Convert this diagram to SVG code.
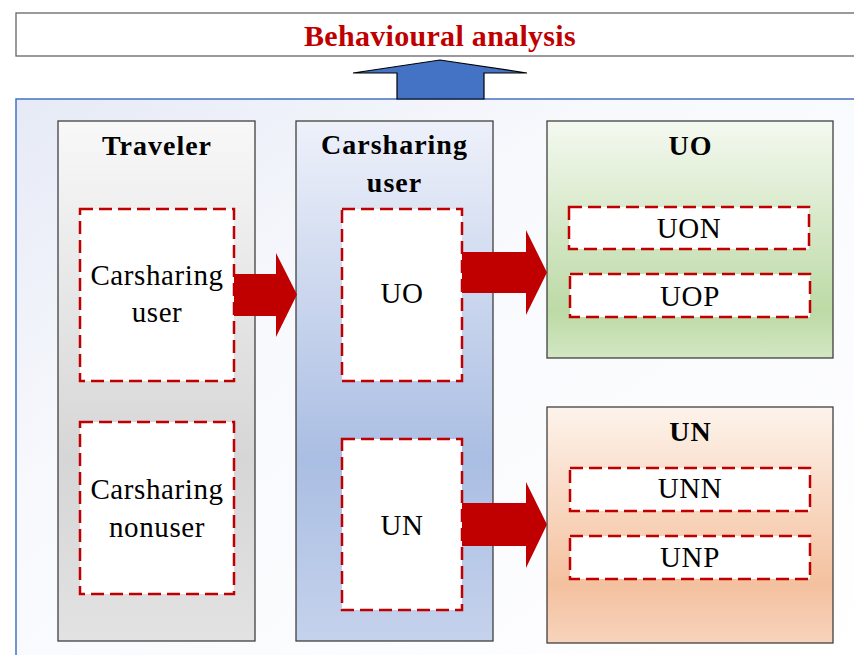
<svg xmlns="http://www.w3.org/2000/svg" width="854" height="655" viewBox="0 0 854 655">
<defs>
<style>
.b{font-family:"Liberation Serif","Times New Roman",serif;font-weight:bold;font-size:28px;letter-spacing:1px;text-anchor:middle;fill:#000}
.r{font-family:"Liberation Serif","Times New Roman",serif;font-size:29px;letter-spacing:0.6px;text-anchor:middle;fill:#000}
.d{fill:#fff;stroke:#C00000;stroke-width:2.5;stroke-dasharray:13 6}
.box{stroke:#404040;stroke-width:1.3}
.ra{fill:#C00000}
</style>
<linearGradient id="gPanel" x1="0" y1="0" x2="1" y2="1">
<stop offset="0" stop-color="#E6EAF6"/><stop offset="0.35" stop-color="#F8F9FD"/><stop offset="1" stop-color="#FFFFFF"/>
</linearGradient>
<linearGradient id="gGray" x1="0" y1="0" x2="0" y2="1">
<stop offset="0" stop-color="#F8F8F8"/><stop offset="0.65" stop-color="#D6D6D6"/><stop offset="1" stop-color="#E2E2E2"/>
</linearGradient>
<linearGradient id="gBlue" x1="0" y1="0" x2="0" y2="1">
<stop offset="0" stop-color="#EEF1FA"/><stop offset="0.65" stop-color="#AABEE3"/><stop offset="1" stop-color="#C5D2EC"/>
</linearGradient>
<linearGradient id="gGreen" x1="0" y1="0" x2="0" y2="1">
<stop offset="0" stop-color="#F4F9F0"/><stop offset="0.8" stop-color="#BDDAA6"/><stop offset="1" stop-color="#D2E6C3"/>
</linearGradient>
<linearGradient id="gOrange" x1="0" y1="0" x2="0" y2="1">
<stop offset="0" stop-color="#FDF3EB"/><stop offset="0.75" stop-color="#F4C19F"/><stop offset="1" stop-color="#F7D3BC"/>
</linearGradient>
</defs>

<g id="behavioural-analysis">
<rect x="16" y="13" width="850" height="43" fill="#fff" stroke="#666" stroke-width="1.3"/>
<text x="440" y="46" class="b" style="fill:#C00000;font-size:30px;letter-spacing:0.3px">Behavioural analysis</text>
</g>

<g id="panel">
<rect x="16" y="99" width="850" height="570" fill="url(#gPanel)" stroke="#4472C4" stroke-width="1.5"/>
</g>

<g id="traveler">
<rect class="box" x="58" y="121" width="197" height="520" fill="url(#gGray)"/>
<text x="157" y="155" class="b">Traveler</text>
<rect class="d" x="80" y="209" width="154" height="172"/>
<text x="157" y="285" class="r">Carsharing</text>
<text x="157" y="322" class="r">user</text>
<rect class="d" x="80" y="422" width="154" height="172"/>
<text x="157" y="499" class="r">Carsharing</text>
<text x="157" y="537" class="r">nonuser</text>
</g>

<g id="carsharing-user">
<rect class="box" x="296" y="121" width="197" height="520" fill="url(#gBlue)"/>
<text x="394.5" y="154" class="b">Carsharing</text>
<text x="394.5" y="192" class="b">user</text>
<rect class="d" x="342" y="209" width="120" height="172"/>
<text x="402" y="303" class="r">UO</text>
<rect class="d" x="342" y="439" width="120" height="171"/>
<text x="402" y="535" class="r">UN</text>
</g>

<g id="uo">
<rect class="box" x="547" y="121" width="286" height="237" fill="url(#gGreen)"/>
<text x="690.5" y="155" class="b">UO</text>
<rect class="d" x="569" y="207" width="240" height="42"/>
<text x="689" y="238" class="r">UON</text>
<rect class="d" x="570" y="274" width="240" height="43"/>
<text x="690" y="306" class="r">UOP</text>
</g>

<g id="un">
<rect class="box" x="547" y="407" width="286" height="236" fill="url(#gOrange)"/>
<text x="690.5" y="441" class="b">UN</text>
<rect class="d" x="570" y="468" width="240" height="43"/>
<text x="690" y="498" class="r">UNN</text>
<rect class="d" x="570" y="536" width="240" height="43"/>
<text x="690" y="567" class="r">UNP</text>
</g>

<g id="connectors">
<polygon points="397,99 397,73 353,73 440,60 527,73 484,73 484,99" fill="#4472C4" stroke="#000" stroke-width="1.2"/>
<polygon class="ra" points="234,274 276,274 276,253 297,294.5 276,337 276,316 234,316"/>
<polygon class="ra" points="462,252 526,252 526,230 547,272.5 526,315 526,293 462,293"/>
<polygon class="ra" points="462,503 526,503 526,482 547,524.5 526,568 526,546 462,546"/>
</g>
</svg>
